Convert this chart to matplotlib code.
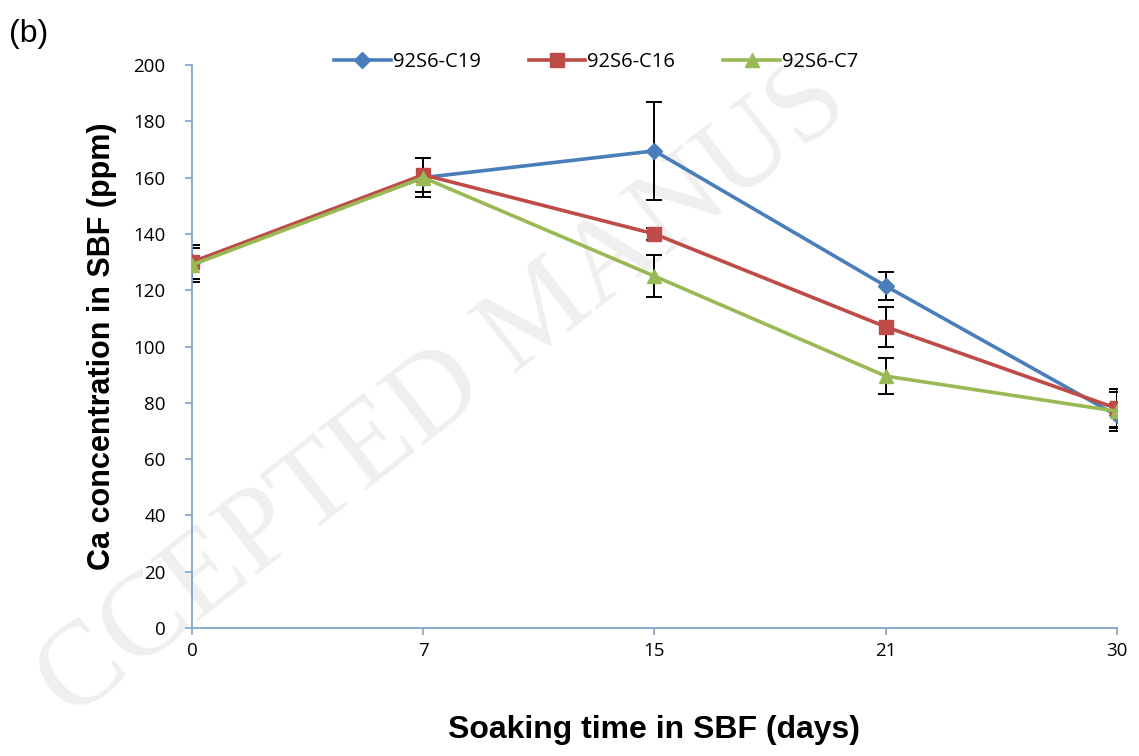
import matplotlib.pyplot as plt

# data (b)
days = ['0', '7', '15', '21', '30']
c19 = [130, 160, 169.5, 121.5, 75.5]
c19_err = [6, 7, 17.5, 5, 4]
c16 = [130, 161, 140, 107, 78]
c16_err = [6, 6, 2, 7, 7]
c7 = [129, 160, 125, 89.5, 77]
c7_err = [6, 7, 7.5, 6.5, 7]

names = ['92S6-C19', '92S6-C16', '92S6-C7']
colors = ['#4A7EBB', '#BE4B48', '#98B954']
markers = ['D', 's', '^']
sizes = [8, 10, 10]

fig = plt.figure(figsize=(11.39, 7.56), dpi=100)
ax = fig.add_axes([0.1686, 0.1693, 0.812, 0.7447])
ax.set_zorder(2)

# faint publisher watermark (only the visible part)
fig.text(0.39, 0.48, 'CCEPTED MANUS', rotation=38, fontsize=86,
         family='Liberation Serif', color='#efefef', ha='center', va='center', zorder=0)

x = list(range(len(days)))
handles = []
for vals, err, c, m, s, n in zip([c19, c16, c7], [c19_err, c16_err, c7_err],
                                 colors, markers, sizes, names):
    ax.errorbar(x, vals, yerr=err, fmt='none', ecolor='black', elinewidth=1.4,
                capsize=6, capthick=1.4, zorder=2)
    h, = ax.plot(x, vals, color=c, marker=m, ms=s, lw=2.6, label=n, zorder=3)
    handles.append(h)

ax.set_xlim(0, 4)
ax.set_ylim(0, 200)
ax.set_yticks(range(0, 201, 20))
ax.set_xticks(x)
ax.set_xticklabels(days)
ax.patch.set_alpha(0)

for s in ['top', 'right']:
    ax.spines[s].set_visible(False)
for s in ['left', 'bottom']:
    ax.spines[s].set_color('#7FA6CC')
    ax.spines[s].set_linewidth(1.3)
ax.tick_params(axis='both', color='#7FA6CC', length=5, width=1.2, labelsize=13.5)
ax.tick_params(axis='y', pad=14)
ax.tick_params(axis='x', pad=5)
for lab in ax.get_xticklabels() + ax.get_yticklabels():
    lab.set_family('Open Sans')
    lab.set_bbox(dict(facecolor='white', edgecolor='none', pad=1))

ax.set_xlabel('Soaking time in SBF (days)', fontsize=23, fontweight='bold',
              family='Liberation Sans', labelpad=40)
ax.set_ylabel('Ca concentration in SBF (ppm)', fontsize=22, fontweight='bold',
              family='Liberation Sans', labelpad=12)

ax.legend(handles=handles, loc='upper center', bbox_to_anchor=(0.437, 1.055), ncol=3,
          frameon=False, handlelength=2.8, handletextpad=0.1, columnspacing=2.4,
          prop={'family': 'Open Sans', 'size': 14.5})

fig.text(0.008, 0.945, '(b)', fontsize=23, family='Liberation Sans')

fig.savefig('out.png', dpi=100)
